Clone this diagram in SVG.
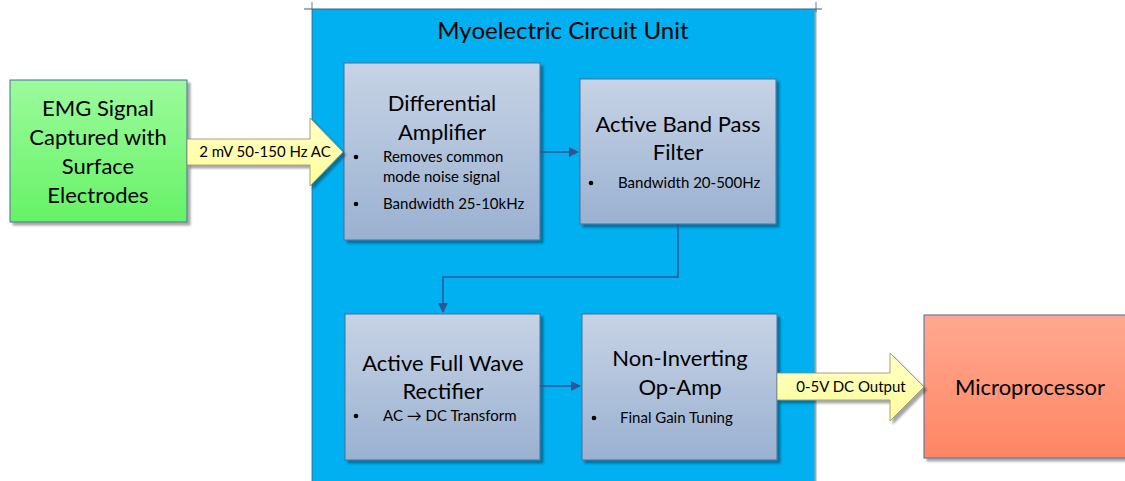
<svg xmlns="http://www.w3.org/2000/svg" width="1125" height="481" viewBox="0 0 1125 481">
<defs>
<linearGradient id="gBox" x1="0" y1="0" x2="0" y2="1"><stop offset="0" stop-color="#C7D3E5"/><stop offset="1" stop-color="#9AB1D1"/></linearGradient>
<linearGradient id="gGreen" x1="0" y1="0" x2="0" y2="1"><stop offset="0" stop-color="#9CFB9C"/><stop offset="1" stop-color="#66F266"/></linearGradient>
<linearGradient id="gRed" x1="0" y1="0" x2="0" y2="1"><stop offset="0" stop-color="#FFA990"/><stop offset="1" stop-color="#FF8563"/></linearGradient>
<linearGradient id="gYel" x1="0" y1="0" x2="0" y2="1"><stop offset="0" stop-color="#FFFFC8"/><stop offset="1" stop-color="#FFFF99"/></linearGradient>
<marker id="ah" markerWidth="10" markerHeight="10" refX="9" refY="5" orient="auto" markerUnits="userSpaceOnUse"><path d="M0,0 L10,5 L0,10 Z" fill="#2F5597"/></marker>
<filter id="sh" x="-10%" y="-10%" width="130%" height="130%"><feDropShadow dx="3" dy="3" stdDeviation="1.2" flood-color="#000" flood-opacity="0.35"/></filter>
</defs>
<style>
.t{font-family:Lato,"Liberation Sans",sans-serif;fill:#000;}
.ttl{font-size:22px;text-anchor:middle;}
.bl{font-size:15px;}
.lbl{font-size:15px;text-anchor:middle;}
.box{fill:url(#gBox);stroke:#4A6C9B;stroke-width:1;filter:url(#sh);}
.con{fill:none;stroke:#2F5597;stroke-width:1.5;marker-end:url(#ah);}
.yarrow{fill:url(#gYel);stroke:#8C8C6E;stroke-width:0.8;filter:url(#sh);}
</style>
<rect width="1125" height="481" fill="#fff"/>
<g id="container">
<rect x="312" y="9" width="503" height="480" fill="#00B0F0"/>
<line x1="815.5" y1="9" x2="815.5" y2="481" stroke="#A6A6A6" stroke-width="2"/>
<line x1="304" y1="9" x2="822" y2="9" stroke="#3B5A85" stroke-width="1"/>
<line x1="312" y1="2" x2="312" y2="481" stroke="#3B5A85" stroke-width="0.8"/>
<line x1="816" y1="2" x2="816" y2="12" stroke="#3B5A85" stroke-width="0.8"/>
<text class="t" x="563" y="39" font-size="24" text-anchor="middle">Myoelectric Circuit Unit</text>
</g>
<g id="emg">
<rect x="10" y="80" width="177" height="142" fill="url(#gGreen)" stroke="#4A6C9B" stroke-width="1" filter="url(#sh)"/>
<text class="t ttl" x="98" y="116">EMG Signal</text>
<text class="t ttl" x="98" y="145">Captured with</text>
<text class="t ttl" x="98" y="174">Surface</text>
<text class="t ttl" x="98" y="203">Electrodes</text>
</g>
<g id="diffamp">
<rect class="box" x="344" y="63" width="196" height="177"/>
<text class="t ttl" x="442" y="111">Differential</text>
<text class="t ttl" x="442" y="140">Amplifier</text>
<circle cx="356" cy="157" r="2.3"/>
<text class="t bl" x="383" y="162">Removes common</text>
<text class="t bl" x="383" y="182">mode noise signal</text>
<circle cx="356" cy="204" r="2.3"/>
<text class="t bl" x="383" y="209">Bandwidth 25-10kHz</text>
</g>
<g id="bandpass">
<rect class="box" x="580" y="79" width="196" height="145"/>
<text class="t ttl" x="678" y="132">Active Band Pass</text>
<text class="t ttl" x="678" y="160">Filter</text>
<circle cx="591" cy="183" r="2.3"/>
<text class="t bl" x="618" y="188">Bandwidth 20-500Hz</text>
</g>
<g id="rectifier">
<rect class="box" x="345" y="314" width="195" height="146"/>
<text class="t ttl" x="443" y="371">Active Full Wave</text>
<text class="t ttl" x="443" y="399">Rectifier</text>
<circle cx="356" cy="416" r="2.3"/>
<text class="t bl" x="383" y="421">AC → DC Transform</text>
</g>
<g id="opamp">
<rect class="box" x="582" y="314" width="195" height="146"/>
<text class="t ttl" x="680" y="366">Non-Inverting</text>
<text class="t ttl" x="680" y="395">Op-Amp</text>
<circle cx="594" cy="418" r="2.3"/>
<text class="t bl" x="620" y="423">Final Gain Tuning</text>
</g>
<g id="micro">
<rect x="924" y="315" width="205" height="143" fill="url(#gRed)" stroke="#4A6C9B" stroke-width="1" filter="url(#sh)"/>
<text class="t ttl" x="1030" y="395">Microprocessor</text>
</g>
<g id="connectors">
<path class="yarrow" d="M187,139 L310,139 L310,118 L343,152 L310,186 L310,165 L187,165 Z"/>
<text class="t lbl" x="265" y="157">2 mV 50-150 Hz AC</text>
<path class="con" d="M540,152 L578,152"/>
<path class="con" d="M678,224 L678,277 L443,277 L443,312"/>
<path class="con" d="M540,386 L580,386"/>
<path class="yarrow" d="M777,373 L890,373 L890,353 L924,387 L890,421 L890,400 L777,400 Z"/>
<text class="t lbl" x="851" y="392">0-5V DC Output</text>
</g>
</svg>
